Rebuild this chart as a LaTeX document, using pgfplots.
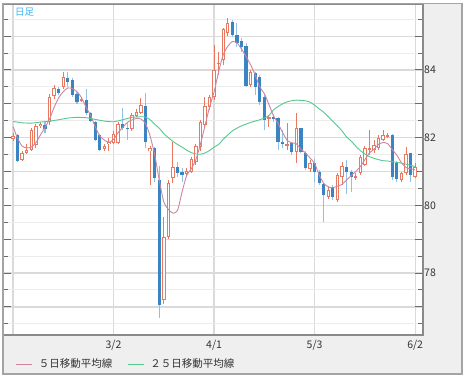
\documentclass[border=0pt]{standalone}
\usepackage{fontspec}
\setmainfont{Noto Sans CJK JP}
\usepackage{pgfplots}
\pgfplotsset{compat=1.18}
\usepackage{pgfplotstable}

\definecolor{cUp}{HTML}{E8785F}
\definecolor{cDn}{HTML}{3A84C4}
\definecolor{cDnW}{HTML}{8FC0E6}
\definecolor{cMAf}{HTML}{CC86A0}
\definecolor{cMAt}{HTML}{55C98E}
\definecolor{cPanel}{HTML}{EFEFEF}
\definecolor{cFrame}{HTML}{A4A4A4}
\definecolor{cAxis}{HTML}{8A8A8A}
\definecolor{cTick}{HTML}{6A6A6A}
\definecolor{cGridA}{HTML}{DADADA}
\definecolor{cGridB}{HTML}{ECECEC}
\definecolor{cTitle}{HTML}{3BB4EE}
\definecolor{cText}{HTML}{333333}

\pgfplotstableread{
i O H L C
0 81.96 82.15 81.90 82.06
1 82.07 82.10 81.28 81.32
2 81.34 81.60 81.30 81.54
3 81.56 81.80 81.52 81.65
4 81.64 82.30 81.60 82.23
5 81.78 82.40 81.70 82.35
6 82.35 82.45 82.30 82.42
7 82.38 82.45 82.15 82.25
8 82.45 83.30 82.38 83.20
9 83.22 83.55 83.15 83.48
10 83.45 83.50 83.25 83.32
11 83.50 83.94 83.45 83.80
12 83.76 83.95 83.50 83.65
13 83.70 83.75 83.20 83.25
14 83.30 83.35 83.00 83.05
15 83.10 83.20 83.05 83.13
16 83.12 83.44 82.68 82.72
17 82.72 82.75 82.45 82.50
18 82.47 82.50 81.90 81.93
19 82.08 82.10 81.60 81.64
20 81.66 81.82 81.60 81.76
21 81.80 82.00 81.60 81.88
22 81.85 82.20 81.80 82.10
23 81.83 82.45 81.80 82.42
24 82.42 82.87 82.22 82.28
25 82.30 82.42 81.93 82.25
26 82.25 82.72 82.20 82.67
27 82.63 82.85 82.60 82.77
28 82.72 83.16 82.70 82.97
29 82.94 83.31 81.69 81.88
30 81.60 81.75 80.60 81.70
31 81.69 81.72 80.70 80.80
32 80.75 81.15 76.66 77.06
33 77.20 79.67 77.10 79.08
34 79.06 80.75 79.00 80.65
35 80.80 81.88 80.65 81.14
36 81.14 81.29 80.85 80.95
37 81.00 81.10 80.70 80.90
38 80.93 81.10 80.85 81.02
39 81.00 81.44 80.95 81.36
40 81.29 81.80 81.20 81.75
41 81.74 82.52 81.60 82.47
42 82.38 83.21 82.33 82.94
43 82.92 83.26 82.82 83.19
44 83.19 84.74 83.10 84.00
45 84.17 84.54 83.85 84.22
46 84.30 85.23 84.15 85.20
47 85.08 85.53 85.00 85.40
48 85.43 85.48 84.98 85.03
49 85.03 85.38 84.69 84.79
50 84.87 84.94 84.54 84.69
51 84.71 84.79 83.50 83.53
52 83.56 84.00 83.50 83.95
53 83.92 83.95 83.26 83.49
54 83.80 83.85 82.97 83.06
55 83.19 83.26 82.23 82.52
56 82.55 82.67 82.33 82.60
57 82.62 82.70 82.45 82.55
58 82.57 82.62 81.64 81.88
59 81.88 82.23 81.69 81.83
60 81.76 82.42 81.64 81.80
61 81.83 81.88 81.50 81.59
62 81.59 82.72 81.24 82.28
63 82.28 82.30 81.55 81.59
64 81.54 81.60 81.05 81.10
65 81.07 81.35 81.00 81.24
66 81.26 81.36 80.70 81.00
67 81.00 81.05 80.60 80.65
68 80.64 80.67 79.52 80.31
69 80.26 80.55 80.20 80.45
70 80.55 80.60 80.16 80.24
71 80.16 80.95 80.10 80.90
72 80.83 81.29 80.60 81.16
73 81.14 81.34 80.35 81.00
74 81.00 81.05 80.40 80.85
75 80.83 80.95 80.75 80.87
76 80.95 81.50 80.90 81.44
77 81.20 81.75 81.15 81.69
78 81.63 82.22 81.50 81.69
79 81.64 81.94 81.55 81.79
80 81.69 82.09 81.64 81.99
81 81.94 82.23 81.90 82.08
82 82.04 82.13 82.00 82.08
83 82.08 82.10 80.75 80.85
84 81.24 81.30 80.70 80.77
85 80.75 81.00 80.70 80.95
86 80.95 81.74 80.90 81.52
87 81.54 81.55 80.70 80.90
88 80.85 81.24 80.80 81.14
}\candles

\pgfplotstableread{
i v
0 82.33
1 81.98
2 81.75
3 81.70
4 81.72
5 81.85
6 82.08
7 82.30
8 82.55
9 82.90
10 83.18
11 83.36
12 83.47
13 83.45
14 83.36
15 83.18
16 82.90
17 82.65
18 82.32
19 82.05
20 81.93
21 81.86
22 81.95
23 82.15
24 82.30
25 82.45
26 82.52
27 82.57
28 82.55
29 82.42
30 82.05
31 81.50
32 80.75
33 80.10
34 79.88
35 79.77
36 79.85
37 80.40
38 80.88
39 81.08
40 81.35
41 81.80
42 82.35
43 82.90
44 83.35
45 83.95
46 84.45
47 84.70
48 84.84
49 84.80
50 84.62
51 84.40
52 84.15
53 83.85
54 83.50
55 83.30
56 82.98
57 82.65
58 82.42
59 82.15
60 81.92
61 81.85
62 81.82
63 81.66
64 81.55
65 81.40
66 81.24
67 80.90
68 80.65
69 80.55
70 80.52
71 80.57
72 80.62
73 80.75
74 80.88
75 81.00
76 81.15
77 81.35
78 81.55
79 81.66
80 81.80
81 81.86
82 81.82
83 81.65
84 81.48
85 81.26
86 81.12
87 81.08
88 81.05
}\maFive

\pgfplotstableread{
i v
0 82.48
2 82.44
4 82.43
6 82.46
8 82.49
10 82.53
12 82.58
14 82.60
16 82.59
18 82.54
20 82.49
22 82.47
24 82.53
26 82.60
28 82.62
29 82.61
30 82.53
31 82.40
32 82.28
33 82.12
34 82.00
35 81.89
36 81.80
37 81.72
38 81.63
39 81.56
40 81.52
41 81.51
42 81.55
43 81.62
44 81.72
45 81.80
46 81.95
47 82.08
48 82.20
49 82.28
50 82.35
52 82.45
54 82.53
55 82.58
56 82.65
57 82.82
58 82.92
59 83.00
60 83.06
61 83.09
62 83.11
63 83.10
64 83.09
65 83.05
66 82.96
67 82.85
68 82.75
69 82.62
70 82.48
71 82.35
72 82.20
73 82.02
74 81.90
75 81.75
76 81.62
77 81.52
78 81.44
79 81.39
80 81.35
81 81.32
82 81.31
83 81.29
84 81.27
85 81.25
86 81.22
87 81.18
88 81.15
}\maTwentyFive

\begin{document}
\begin{tikzpicture}[x=1bp,y=1bp]
\path[use as bounding box] (0,0) rectangle (466,379);
\fill[white] (0,0) rectangle (466,379);
\fill[cPanel] (3,5) rectangle (462,375.5);
\begin{axis}[
  scale only axis,
  width=420bp, height=331bp,
  at={(3bp,44bp)}, anchor=south west,
  xmin=-2.19, xmax=89.72,
  ymin=76.17, ymax=85.95,
  axis background/.style={fill=white},
  axis line style={draw=cAxis, line width=1.2bp},
  xtick={0,22,44,66,88},
  xticklabels={,3/2,4/1,5/3,6/2},
  xtick style={draw=none},
  ytick={77,78,...,85},
  yticklabels={,78,,80,,82,,84,},
  minor ytick={76.5,77.5,...,85.5},
  yticklabel pos=right,
  ytick pos=both,
  tick align=inside,
  major tick length=8bp,
  minor tick length=5bp,
  ytick style={draw=cTick, line width=1bp},
  xmajorgrids, ymajorgrids, yminorgrids,
  major grid style={draw=cGridA, line width=1.2bp},
  minor grid style={draw=cGridB, line width=1bp},
  ticklabel style={font=\fontsize{10.5bp}{12bp}\selectfont, text=cText},
  yticklabel style={inner sep=0pt, xshift=1bp},
  xticklabel style={inner sep=0pt, yshift=-5bp},
  legend style={at={(axis description cs:0.031,-0.0876)}, anchor=west,
    draw=none, fill=none, inner sep=0pt, outer sep=0pt,
    font=\fontsize{10.5bp}{12bp}\selectfont, text=cText,
    nodes={inner sep=0pt},
    /tikz/every even column/.append style={column sep=15bp},
    /tikz/every odd column/.append style={column sep=6bp}},
  legend columns=2,
  legend cell align=left,
  legend image code/.code={\draw[#1] (0bp,0bp) -- (16bp,0bp);},
]
% wicks
\addplot[forget plot, draw=none, mark=none,
  restrict expr to domain={\thisrow{O}-\thisrow{C}}{0.0001:100},
  error bars/.cd, y dir=both, y explicit, error mark=none,
  error bar style={draw=cDnW, line width=1.1bp, solid}]
  table[x=i, y expr={(\thisrow{H}+\thisrow{L})/2}, y error expr={(\thisrow{H}-\thisrow{L})/2}] {\candles};
\addplot[forget plot, draw=none, mark=none,
  restrict expr to domain={\thisrow{C}-\thisrow{O}}{0:100},
  error bars/.cd, y dir=both, y explicit, error mark=none,
  error bar style={draw=cUp, line width=1bp, solid}]
  table[x=i, y expr={(\thisrow{H}+\thisrow{L})/2}, y error expr={(\thisrow{H}-\thisrow{L})/2}] {\candles};
% down bodies
\addplot[forget plot, draw=none, mark=none,
  restrict expr to domain={\thisrow{O}-\thisrow{C}}{0.0001:100},
  error bars/.cd, y dir=both, y explicit, error mark=none,
  error bar style={draw=cDn, line width=3.2bp, solid}]
  table[x=i, y expr={(\thisrow{O}+\thisrow{C})/2}, y error expr={max(abs(\thisrow{O}-\thisrow{C})/2,0.015)}] {\candles};
% up bodies (hollow)
\addplot[forget plot, draw=none, mark=none,
  restrict expr to domain={\thisrow{C}-\thisrow{O}}{0:100},
  error bars/.cd, y dir=both, y explicit, error mark=none,
  error bar style={draw=cUp, line width=3.4bp, solid}]
  table[x=i, y expr={(\thisrow{O}+\thisrow{C})/2}, y error expr={max(abs(\thisrow{O}-\thisrow{C})/2,0.02)}] {\candles};
\addplot[forget plot, draw=none, mark=none,
  restrict expr to domain={\thisrow{C}-\thisrow{O}}{0:100},
  error bars/.cd, y dir=both, y explicit, error mark=none,
  error bar style={draw=white, line width=1.4bp, solid}]
  table[x=i, y expr={(\thisrow{O}+\thisrow{C})/2}, y error expr={max(abs(\thisrow{O}-\thisrow{C})/2-0.03,0)}] {\candles};
% moving averages
\addplot[cMAf, line width=0.9bp, mark=none, smooth, tension=0.4] table[x=i, y=v] {\maFive};
\addlegendentry{５日移動平均線}
\addplot[cMAt, line width=0.9bp, mark=none, smooth, tension=0.4] table[x=i, y=v] {\maTwentyFive};
\addlegendentry{２５日移動平均線}
\end{axis}
\draw[cFrame, line width=1.3] (3,5) rectangle (462,375.5);
\node[anchor=west, inner sep=0pt, text=cTitle, font=\fontsize{9.5bp}{11bp}\selectfont] at (15,366.5) {日足};
\end{tikzpicture}
\end{document}
